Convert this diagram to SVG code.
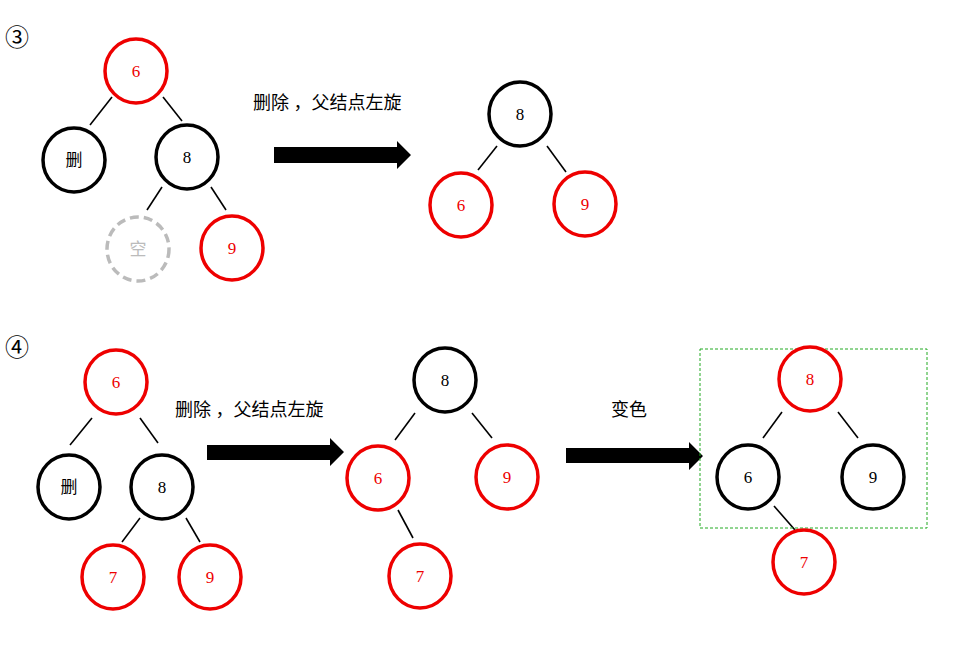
<svg xmlns="http://www.w3.org/2000/svg" width="959" height="646" viewBox="0 0 959 646">
<style>
.r{fill:#fff;stroke:#e00;stroke-width:3.5}
.b{fill:#fff;stroke:#000;stroke-width:3.5}
.e{fill:#fff;stroke:#bbb;stroke-width:3.5;stroke-dasharray:9 5}
text{font-family:"Liberation Serif","Noto Sans CJK SC",serif;font-size:17px;text-anchor:middle;dominant-baseline:central}
.tr{fill:#e00}.tk{fill:#000}.tg{fill:#bbb}
.lbl{font-size:19px;text-anchor:start}
#conn line{stroke:#000;stroke-width:1.6}
.arr{fill:#000}
</style>
<text class="lbl" x="5" y="38" style="font-size:24px">③</text>
<text class="lbl" x="5" y="348" style="font-size:24px">④</text>
<g id="conn">
<line x1="112" y1="97" x2="90" y2="125"/><line x1="163" y1="97" x2="182" y2="121"/>
<line x1="162" y1="187" x2="147" y2="210"/><line x1="211" y1="187" x2="226" y2="210"/>
<line x1="497" y1="146" x2="478" y2="170"/><line x1="547" y1="146" x2="566" y2="172"/>
<line x1="92" y1="418" x2="70" y2="445"/><line x1="140" y1="418" x2="158" y2="443"/>
<line x1="140" y1="518" x2="122" y2="542"/><line x1="186" y1="518" x2="200" y2="542"/>
<line x1="415" y1="413" x2="395" y2="440"/><line x1="472" y1="413" x2="492" y2="438"/>
<line x1="398" y1="510" x2="413" y2="538"/>
<line x1="782" y1="412" x2="763" y2="438"/><line x1="838" y1="412" x2="858" y2="438"/>
<line x1="774" y1="506" x2="795" y2="530"/>
<polygon class="arr" points="274,147 397,147 397,141 411,155 397,169 397,163 274,163"/>
<polygon class="arr" points="207,445 330,445 330,438 344,452 330,466 330,460 207,460"/>
<polygon class="arr" points="566,448 689,448 689,442 703,456 689,470 689,463 566,463"/>
</g>
<text class="lbl" x="253" y="103" style="font-size:18px">删除 ，父结点左旋</text>
<text class="lbl" x="175" y="410" style="font-size:18px">删除 ，父结点左旋</text>
<text class="lbl" x="611" y="410" style="font-size:18px">变色</text>
<rect x="700" y="349" width="227" height="179" fill="none" stroke="#2a2" stroke-width="1" stroke-dasharray="3 2"/>
<g id="n3_6"><ellipse class="r" cx="136" cy="71" rx="31" ry="32"/><text class="tr" x="136" y="71">6</text></g>
<g id="n3_del"><ellipse class="b" cx="74" cy="160" rx="31" ry="32"/><text class="tk" x="74" y="160">删</text></g>
<g id="n3_8"><ellipse class="b" cx="187" cy="157" rx="31" ry="32"/><text class="tk" x="187" y="157">8</text></g>
<g id="n3_empty"><ellipse class="e" cx="138" cy="249" rx="31" ry="32"/><text class="tg" x="138" y="249">空</text></g>
<g id="n3_9"><ellipse class="r" cx="232" cy="248" rx="31" ry="32"/><text class="tr" x="232" y="248">9</text></g>
<g id="n3r_8"><ellipse class="b" cx="520" cy="114" rx="31" ry="32"/><text class="tk" x="520" y="114">8</text></g>
<g id="n3r_6"><ellipse class="r" cx="461" cy="205" rx="31" ry="32"/><text class="tr" x="461" y="205">6</text></g>
<g id="n3r_9"><ellipse class="r" cx="585" cy="204" rx="31" ry="32"/><text class="tr" x="585" y="204">9</text></g>
<g id="n4_6"><ellipse class="r" cx="116" cy="382" rx="31" ry="32"/><text class="tr" x="116" y="382">6</text></g>
<g id="n4_del"><ellipse class="b" cx="69" cy="487" rx="31" ry="32"/><text class="tk" x="69" y="487">删</text></g>
<g id="n4_8"><ellipse class="b" cx="162" cy="487" rx="31" ry="32"/><text class="tk" x="162" y="487">8</text></g>
<g id="n4_7"><ellipse class="r" cx="113" cy="577" rx="31" ry="32"/><text class="tr" x="113" y="577">7</text></g>
<g id="n4_9"><ellipse class="r" cx="210" cy="577" rx="31" ry="32"/><text class="tr" x="210" y="577">9</text></g>
<g id="n4m_8"><ellipse class="b" cx="445" cy="380" rx="31" ry="32"/><text class="tk" x="445" y="380">8</text></g>
<g id="n4m_6"><ellipse class="r" cx="378" cy="478" rx="31" ry="32"/><text class="tr" x="378" y="478">6</text></g>
<g id="n4m_9"><ellipse class="r" cx="507" cy="477" rx="31" ry="32"/><text class="tr" x="507" y="477">9</text></g>
<g id="n4m_7"><ellipse class="r" cx="420" cy="576" rx="31" ry="32"/><text class="tr" x="420" y="576">7</text></g>
<g id="n4r_8"><ellipse class="r" cx="810" cy="379" rx="31" ry="32"/><text class="tr" x="810" y="379">8</text></g>
<g id="n4r_6"><ellipse class="b" cx="748" cy="477" rx="31" ry="32"/><text class="tk" x="748" y="477">6</text></g>
<g id="n4r_9"><ellipse class="b" cx="873" cy="477" rx="31" ry="32"/><text class="tk" x="873" y="477">9</text></g>
<g id="n4r_7"><ellipse class="r" cx="804" cy="562" rx="31" ry="32"/><text class="tr" x="804" y="562">7</text></g>
</svg>
